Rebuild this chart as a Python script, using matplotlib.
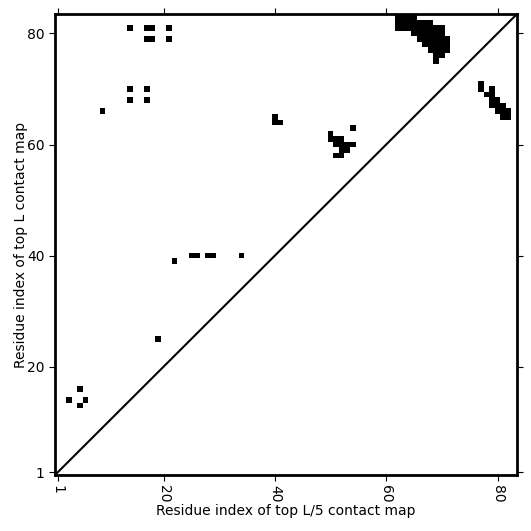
import numpy as np
import matplotlib
matplotlib.use("Agg")
import matplotlib.pyplot as plt

# ==== 資料 ====
L = 83  # 序列長度
ticks = [1, 20, 40, 60, 80]

# 接觸位置 (x = L/5 map 的 residue, y = L map 的 residue)
contact_x = [14, 17, 18, 21, 17, 18, 21, 14, 17, 14, 17, 9, 40, 40, 41,
             22, 25, 26, 28, 29, 34, 19, 5, 3, 6, 5,
             # 右上角 cluster
             62, 63, 64, 65,
             62, 63, 64, 65, 66, 67, 68,
             62, 63, 64, 65, 66, 67, 68, 69, 70,
             65, 66, 67, 68, 69, 70,
             66, 67, 68, 69, 70, 71,
             67, 68, 69, 70, 71,
             68, 69, 70, 71,
             69, 70,
             69,
             # 中間 cluster
             54, 50, 50, 51, 52, 51, 52, 53, 54, 52, 53, 51, 52,
             # 對角線下方 cluster
             77, 77, 79, 78, 79, 79, 80, 79, 80, 81, 80, 81, 82, 81, 82]
contact_y = [81, 81, 81, 81, 79, 79, 79, 70, 70, 68, 68, 66, 65, 64, 64,
             39, 40, 40, 40, 40, 40, 25, 16, 14, 14, 13,
             83, 83, 83, 83,
             82, 82, 82, 82, 82, 82, 82,
             81, 81, 81, 81, 81, 81, 81, 81, 81,
             80, 80, 80, 80, 80, 80,
             79, 79, 79, 79, 79, 79,
             78, 78, 78, 78, 78,
             77, 77, 77, 77,
             76, 76,
             75,
             63, 62, 61, 61, 61, 60, 60, 60, 60, 59, 59, 58, 58,
             71, 70, 70, 69, 69, 68, 68, 67, 67, 67, 66, 66, 66, 65, 65]

cmap_mat = np.zeros((L, L))
for x, y in zip(contact_x, contact_y):
    cmap_mat[y - 1, x - 1] = 1

# ==== 繪圖 ====
fig = plt.figure(figsize=(5.31, 5.31), dpi=100)
ax = fig.add_axes([55 / 531, 56 / 531, 462 / 531, 461 / 531])
ax.imshow(cmap_mat, cmap="Greys", origin="lower", interpolation="nearest",
          extent=(0.5, L + 0.5, 0.5, L + 0.5), aspect="auto", vmin=0, vmax=1)
ax.plot([0.5, L + 0.5], [0.5, L + 0.5], color="black", linewidth=1.5)
ax.set_xlim(0.5, L + 0.5)
ax.set_ylim(0.5, L + 0.5)

ax.set_xticks(ticks)
ax.set_yticks(ticks)
ax.set_xticklabels([str(t) for t in ticks], rotation=270)
ax.tick_params(top=True, right=True, labeltop=False, labelright=False,
               direction="out", length=4)
for s in ax.spines.values():
    s.set_linewidth(2)

ax.set_xlabel("Residue index of top L/5 contact map", labelpad=1)
ax.set_ylabel("Residue index of top L contact map", labelpad=-1)

plt.savefig("out.png", dpi=100)
